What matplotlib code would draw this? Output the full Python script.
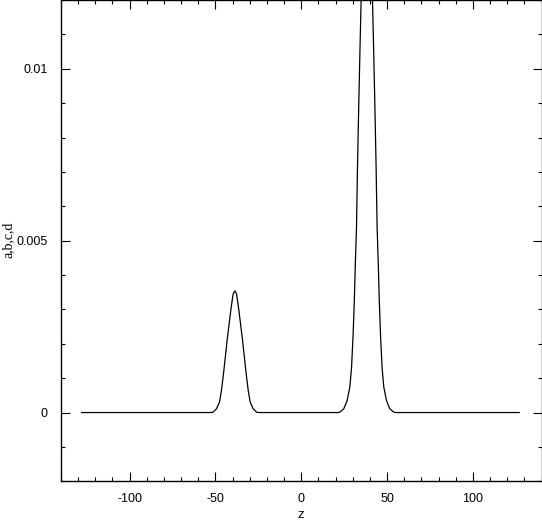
import matplotlib
matplotlib.use("Agg")
import matplotlib.pyplot as plt
from matplotlib.ticker import MultipleLocator, FixedLocator

plt.rcParams['axes.unicode_minus'] = False
plt.rcParams['font.family'] = ['Liberation Sans', 'DejaVu Sans']

# curve: z positions and values of a,b,c,d
z = [-128.0, -53.0,
     -51.35, -49.4, -47.65, -46.5, -45.3, -44.25, -43.2, -42.0, -40.8, -39.7,
     -38.7,
     -37.7, -36.6, -35.4, -34.2, -33.15, -32.1, -30.9, -29.75, -28.0, -26.05,
     -24.5, 21.2,
     22.45, 24.8, 26.75, 28.3, 29.3, 30.25, 30.95, 31.5, 32.2, 32.8, 33.45,
     34.1, 34.7, 35.4, 36.2, 37.2,
     38.2,
     39.2, 40.2, 41.0, 41.7, 42.3, 42.95, 43.6, 44.2, 44.9, 45.45, 46.15,
     47.1, 48.1, 49.65, 51.6, 53.95,
     55.2, 127.0]

abcd = [0.0, 0.0,
        0.00001, 0.00011, 0.00030, 0.00064, 0.00113, 0.00161, 0.00210, 0.00259, 0.00307, 0.00345,
        0.00354,
        0.00345, 0.00307, 0.00259, 0.00210, 0.00161, 0.00113, 0.00064, 0.00030, 0.00011, 0.00001,
        0.0, 0.0,
        0.00001, 0.00011, 0.00035, 0.00074, 0.0013, 0.0023, 0.0033, 0.0043, 0.0054, 0.0072, 0.0088,
        0.0103, 0.0116, 0.0130, 0.0147, 0.0163,
        0.0168,
        0.0163, 0.0147, 0.0130, 0.0116, 0.0103, 0.0088, 0.0072, 0.0054, 0.0043, 0.0033, 0.0023,
        0.0013, 0.00074, 0.00035, 0.00011, 0.00001,
        0.0, 0.0]

xticks = [-100, -50, 0, 50, 100]
xticklabels = ['-100', '-50', '0', '50', '100']
yticks = [0, 0.005, 0.01]
yticklabels = ['0', '0.005', '0.01']

fig = plt.figure(figsize=(5.42, 5.22), dpi=100)
ax = fig.add_axes([61 / 542, 1 - 481.3 / 522, 480.5 / 542, 481.3 / 522])

ax.plot(z, abcd, color='black', lw=0.9)

ax.set_xlim(-140, 140)
ax.set_ylim(-0.002, 0.012)

ax.xaxis.set_major_locator(FixedLocator(xticks))
ax.set_xticklabels(xticklabels)
ax.xaxis.set_minor_locator(MultipleLocator(10))
ax.yaxis.set_major_locator(FixedLocator(yticks))
ax.set_yticklabels(yticklabels)
ax.yaxis.set_minor_locator(MultipleLocator(0.001))

ax.tick_params(which='both', direction='in', top=True, right=True, width=0.8, colors='black')
ax.tick_params(which='major', length=6.5)
ax.tick_params(which='minor', length=3)
ax.tick_params(axis='x', which='major', pad=8.5, labelsize=9)
ax.tick_params(axis='y', which='major', pad=9.4, labelsize=9)
for s in ax.spines.values():
    s.set_linewidth(1.0)

fig.text(301.3 / 542, 3.5 / 522, 'z', ha='center', va='baseline', fontsize=9.5)
fig.text(8 / 542, 1 - 240 / 522, 'a,b,c,d', rotation=90, ha='center', va='center',
         fontsize=10, family=['Liberation Serif', 'DejaVu Serif'])

fig.savefig('out.png', dpi=100)
